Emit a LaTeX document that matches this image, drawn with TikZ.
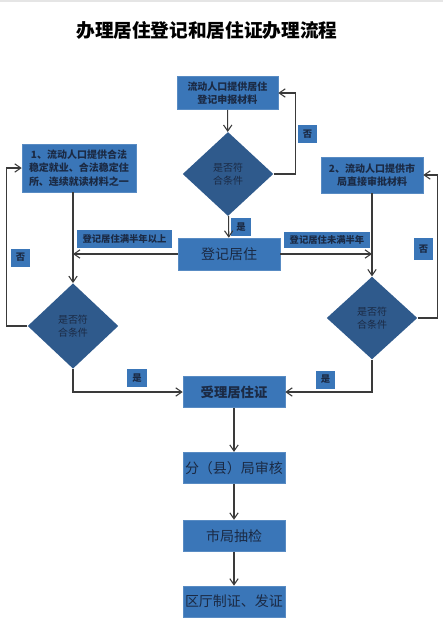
\documentclass[tikz,border=0pt]{standalone}
\usepackage{fontspec}
\setmainfont{Noto Sans CJK SC}
\usepackage{tikz}
\usetikzlibrary{arrows.meta,positioning,shapes.geometric}
\definecolor{flowblue}{HTML}{3A76B8}
\definecolor{flowdeep}{HTML}{2F5A8C}
\definecolor{flowink}{HTML}{1B2A44}
\definecolor{flowline}{HTML}{3A3A3A}
\tikzset{
  stepbox/.style={
    draw=flowblue!85!white,
    fill=flowblue,
    text=flowink,
    inner sep=1pt,
    align=center,
    font=\fontsize{7.5}{10}\selectfont\bfseries
  },
  bigbox/.style={
    stepbox,
    minimum width=76.5pt,
    minimum height=23.5pt,
    font=\fontsize{10.5}{12}\selectfont
  },
  checkbox/.style={
    diamond,
    fill=flowdeep,
    text=flowink,
    inner sep=0pt,
    align=center,
    minimum width=68pt,
    minimum height=63pt,
    font=\fontsize{7.5}{10}\selectfont
  },
  tagbox/.style={
    fill=flowblue,
    text=flowink,
    inner sep=0pt,
    minimum width=14.5pt,
    minimum height=13.5pt,
    font=\fontsize{7}{8}\selectfont\bfseries
  },
  arrow/.style={
    -{Straight Barb[length=1.6mm,width=2.2mm]},
    line width=0.8pt,
    draw=flowline
  }
}

\begin{document}
\begin{tikzpicture}[x=0.75pt,y=-0.75pt]
\useasboundingbox (0,0) rectangle (443,619);
\draw[gray!20, line width=1.5pt] (0,1) -- (443,1);
\node[font=\fontsize{14}{16}\selectfont\bfseries] (title) at (207,30) {办理居住登记和居住证办理流程};

% upper part
\node[stepbox, minimum width=75.75pt, minimum height=24.75pt] (submit) at (227.5,93) {流动人口提供居住\\登记申报材料};
\node[checkbox] (chk) at (228,174) {是否符\\合条件};
\node[bigbox, minimum height=24pt] (reg) at (229,254) {登记居住};
\node[stepbox, minimum width=85.5pt, minimum height=36pt] (opt1) at (79,168) {1、流动人口提供合法\\稳定就业、合法稳定住\\所、连续就读材料之一};
\node[stepbox, minimum width=76.5pt, minimum height=27pt] (opt2) at (372,175) {2、流动人口提供市\\局直接审批材料};
\node[checkbox, minimum height=64pt] (chkL) at (73,326) {是否符\\合条件};
\node[checkbox, minimum height=62pt] (chkR) at (372,318) {是否符\\合条件};
\coordinate (jl) at (73,254);
\coordinate (jr) at (372,254);

% lower chain
\node[bigbox, font=\fontsize{10}{12}\selectfont\bfseries] (accept) at (234,392) {受理居住证};
\node[bigbox, below=33pt of accept] (audit) {分（县）局审核};
\node[bigbox, below=27pt of audit] (spot) {市局抽检};
\node[bigbox, below=25.5pt of spot] (issue) {区厅制证、发证};

% labels
\node[tagbox] (yes0) at (241,227) {是};
\node[tagbox] (no0) at (307.5,134) {否};
\node[tagbox, minimum width=71pt] (longer) at (124.5,239) {登记居住满半年以上};
\node[tagbox, minimum width=64.5pt, minimum height=12pt] (shorter) at (327,240) {登记居住未满半年};
\node[tagbox] (noL) at (20.5,257.5) {否};
\node[tagbox, minimum height=16pt] (noR) at (423.5,249) {否};
\node[tagbox] (yesL) at (137,378) {是};
\node[tagbox] (yesR) at (325.5,379.5) {是};

% connectors
\draw[arrow] (submit) -- (chk);
\draw[arrow] (chk.east) -- ++(22,0) |- (submit.east);
\draw[arrow] (chk) -- (reg);
\draw[arrow] (reg.west) -- (jl);
\draw[arrow] (reg.east) -- (jr);
\draw[arrow] (jl |- opt1.south) -- (chkL.north);
\draw[arrow] (opt2) -- (chkR);
\draw[arrow] (chkL.west) -- ++(-21,0) |- (opt1.west);
\draw[arrow] (chkR.east) -- ++(20,0) |- (opt2.east);
\draw[arrow] (chkL.south) |- (accept.west);
\draw[arrow] (chkR.south) |- (accept.east);
\draw[arrow] (accept) -- (audit);
\draw[arrow] (audit) -- (spot);
\draw[arrow] (spot) -- (issue);
\end{tikzpicture}
\end{document}
